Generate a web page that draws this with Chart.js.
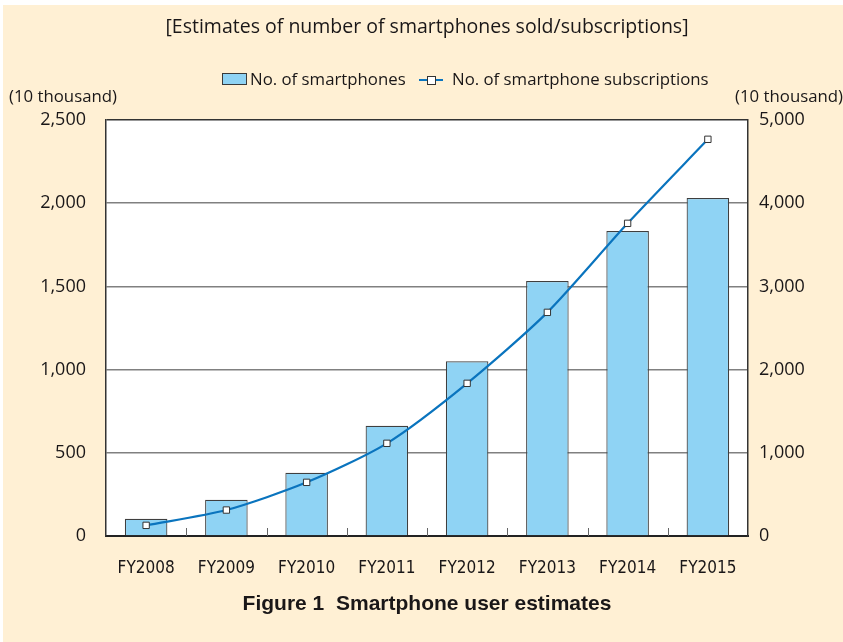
<!DOCTYPE html>
<html>
<head>
<meta charset="utf-8">
<script src="https://cdn.jsdelivr.net/npm/chart.js@4"></script>
<style>
  html, body { margin: 0; padding: 0; background: #fff; }
  #wrap { position: absolute; left: 3px; top: 5px; width: 840px; height: 637px; background: #fff0d4; }
  #c { position: absolute; left: 0; top: 0; }
</style>
</head>
<body>
<div id="wrap"></div>
<canvas id="c" width="843" height="642"></canvas>
<script>
const years = ["FY2008", "FY2009", "FY2010", "FY2011", "FY2012", "FY2013", "FY2014", "FY2015"];
const phones = [104, 218, 380, 663, 1050, 1532, 1833, 2031];
const subscriptions = [128, 312, 645, 1114, 1835, 2688, 3758, 4768];
const leftTicks = [0, 500, 1000, 1500, 2000, 2500];
const rightTicks = [0, 1000, 2000, 3000, 4000, 5000];

const textColor = "#1a1718";
const font = "'Open Sans', 'Noto Sans', sans-serif";
const narrow = "'DejaVu Sans Condensed', 'Liberation Sans Narrow', sans-serif";

const extras = {
  id: "extras",
  beforeDraw(chart) {
    const a = chart.chartArea;
    chart.ctx.save();
    chart.ctx.fillStyle = "#fff";
    chart.ctx.fillRect(a.left, a.top, a.right - a.left, a.bottom - a.top);
    chart.ctx.restore();
  },
  afterDraw(chart) {
    const ctx = chart.ctx;
    ctx.save();
    ctx.fillStyle = textColor;
    ctx.textBaseline = "middle";

    ctx.font = "19.5px " + font;
    ctx.textAlign = "center";
    ctx.fillText("[Estimates of number of smartphones sold/subscriptions]", 427, 27);

    ctx.font = "16.8px " + font;
    ctx.textAlign = "left";
    ctx.fillText("(10 thousand)", 9, 97);
    ctx.textAlign = "right";
    ctx.fillText("(10 thousand)", 843, 97);

    // legend
    ctx.fillStyle = "#8fd3f4";
    ctx.strokeStyle = "#3a3a3a";
    ctx.lineWidth = 1;
    ctx.fillRect(222.5, 73.5, 24, 11);
    ctx.strokeRect(222.5, 73.5, 24, 11);
    ctx.fillStyle = textColor;
    ctx.font = "16.8px " + font;
    ctx.textAlign = "left";
    ctx.fillText("No. of smartphones", 250, 80);
    ctx.strokeStyle = "#0a74be";
    ctx.lineWidth = 2;
    ctx.beginPath();
    ctx.moveTo(419, 80);
    ctx.lineTo(443, 80);
    ctx.stroke();
    ctx.fillStyle = "#fff";
    ctx.strokeStyle = "#333";
    ctx.lineWidth = 1;
    ctx.fillRect(427.5, 76.5, 8, 8);
    ctx.strokeRect(427.5, 76.5, 8, 8);
    ctx.fillStyle = textColor;
    ctx.fillText("No. of smartphone subscriptions", 452, 80);

    ctx.font = "bold 21px 'Liberation Sans', Arial, sans-serif";
    ctx.textAlign = "center";
    ctx.fillText("Figure 1  Smartphone user estimates", 427, 604);
    ctx.restore();
  },
  afterDatasetsDraw(chart) {
    // small category separators on the bottom axis
    const ctx = chart.ctx;
    const a = chart.chartArea;
    const x = chart.scales.x;
    ctx.save();
    ctx.strokeStyle = "#666";
    ctx.lineWidth = 1;
    for (let i = 1; i < years.length; i++) {
      const px = Math.round((x.getPixelForValue(i - 1) + x.getPixelForValue(i)) / 2) + 0.5;
      ctx.beginPath();
      ctx.moveTo(px, a.bottom);
      ctx.lineTo(px, a.bottom - 8);
      ctx.stroke();
    }
    ctx.restore();
  }
};

new Chart(document.getElementById("c"), {
  data: {
    labels: years,
    datasets: [
      {
        type: "line",
        label: "No. of smartphone subscriptions",
        data: subscriptions,
        yAxisID: "y2",
        borderColor: "#0a74be",
        borderWidth: 2.2,
        tension: 0.25,
        pointStyle: "rect",
        pointRadius: 4.5,
        pointBackgroundColor: "#fff",
        pointBorderColor: "#333",
        pointBorderWidth: 1,
        order: 0
      },
      {
        type: "bar",
        label: "No. of smartphones",
        data: phones,
        yAxisID: "y",
        backgroundColor: "#8fd3f4",
        borderColor: "#3f3f3f",
        borderWidth: 1.2,
        barPercentage: 0.53,
        categoryPercentage: 1,
        order: 1
      }
    ]
  },
  options: {
    responsive: false,
    animation: false,
    layout: { padding: { top: 120, left: 0, right: 0, bottom: 0 } },
    plugins: { legend: { display: false }, title: { display: false }, tooltip: { enabled: false } },
    scales: {
      x: {
        offset: true,
        grid: { display: false },
        border: { color: "#222", width: 2 },
        ticks: { color: textColor, font: { family: narrow, size: 17 }, padding: 14 },
        afterFit(s) { s.height = 106; }
      },
      y: {
        position: "left",
        min: 0, max: 2500,
        afterBuildTicks(s) { s.ticks = leftTicks.map(v => ({ value: v })); },
        grid: {
          drawTicks: false,
          color: c => c.tick && c.tick.value === 2500 ? "#333" : (c.tick && c.tick.value === 0 ? "rgba(0,0,0,0)" : "#808080"),
          lineWidth: 1.5
        },
        border: { color: "#333", width: 1.5 },
        ticks: {
          color: textColor, font: { family: font, size: 18 }, padding: 20,
          callback: v => v.toLocaleString("en-US")
        },
        afterFit(s) { s.width = 106; }
      },
      y2: {
        position: "right",
        min: 0, max: 5000,
        afterBuildTicks(s) { s.ticks = rightTicks.map(v => ({ value: v })); },
        grid: { display: false, drawTicks: false },
        border: { color: "#333", width: 1.5 },
        ticks: {
          color: textColor, font: { family: font, size: 18 }, padding: 11,
          callback: v => v.toLocaleString("en-US")
        },
        afterFit(s) { s.width = 95; }
      }
    }
  },
  plugins: [extras]
});
</script>
</body>
</html>
